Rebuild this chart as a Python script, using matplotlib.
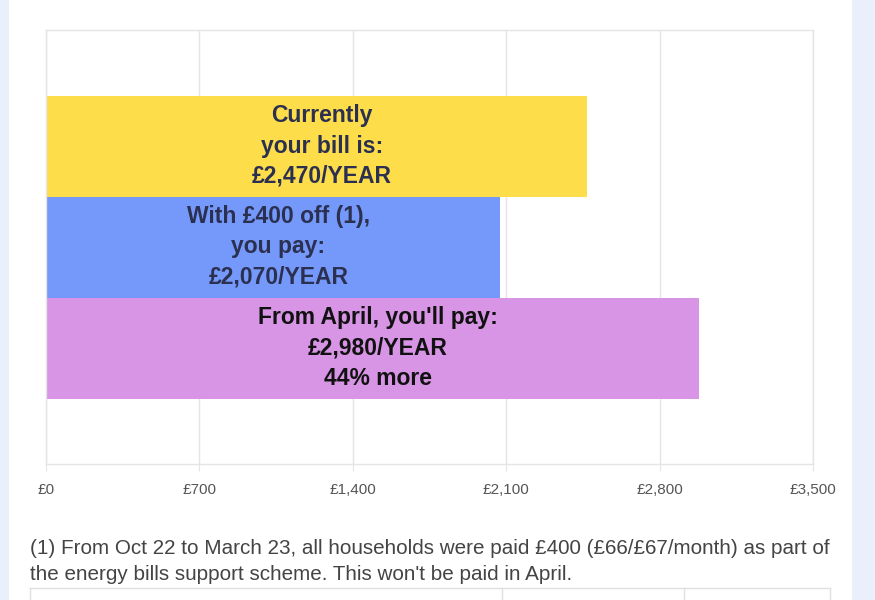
import matplotlib
matplotlib.use("Agg")
import matplotlib.pyplot as plt
from matplotlib.patches import Rectangle
from matplotlib.lines import Line2D

plt.rcParams['font.family'] = ['Liberation Sans', 'DejaVu Sans']

# Data
series_values = [2470, 2070, 2980]
series_labels = [
    "Currently\nyour bill is:\n£2,470/YEAR",
    "With £400 off (1),\nyou pay:\n£2,070/YEAR",
    "From April, you'll pay:\n£2,980/YEAR\n44% more",
]
series_colors = ["#fddd4a", "#7499fa", "#d894e5"]
text_colors = ["#2b3050", "#2b3050", "#111111"]
tick_values = [0, 700, 1400, 2100, 2800, 3500]
tick_labels = ["£0", "£700", "£1,400", "£2,100", "£2,800", "£3,500"]
footnote = ("(1) From Oct 22 to March 23, all households were paid £400 (£66/£67/month) as part of\n"
            "the energy bills support scheme. This won't be paid in April.")

W, H = 875, 600
fig = plt.figure(figsize=(W / 100, H / 100), dpi=100)
fig.patch.set_facecolor("white")

# side strips
fig.patches.append(Rectangle((0, 0), 9 / W, 1, transform=fig.transFigure,
                             facecolor="#eaf0fb", edgecolor="none", zorder=0))
fig.patches.append(Rectangle((852 / W, 0), (W - 852) / W, 1, transform=fig.transFigure,
                             facecolor="#eaf0fb", edgecolor="none", zorder=0))

ax = fig.add_axes([46 / W, (H - 464) / H, 767 / W, 434 / H])
ax.set_facecolor("none")

offsets = [1, 0, -1]
for v, lab, c, tc, off in zip(series_values, series_labels, series_colors, text_colors, offsets):
    ax.barh(off, v, height=1.0, color=c, edgecolor="none", zorder=2)
    ax.text(v / 2 + 25, off, lab, ha="center", va="center", fontsize=16.5,
            fontweight="bold", color=tc, linespacing=1.41, zorder=3)

half = 434 / 101 / 2
ax.set_ylim(-half, half)
ax.set_xlim(tick_values[0], tick_values[-1])
ax.set_xticks(tick_values)
ax.set_xticklabels(tick_labels, fontsize=11, color="#555555")
ax.set_yticks([])
ax.grid(axis="x", color="#e5e5e5", linewidth=1, zorder=1)
ax.set_axisbelow(True)
for side in ["top", "right", "left", "bottom"]:
    ax.spines[side].set_color("#e5e5e5")
    ax.spines[side].set_linewidth(1)
ax.tick_params(axis="x", length=5, color="#e5e5e5", pad=9)

fig.text(30 / W, 1 - 561.5 / H, footnote, ha="left", va="center", fontsize=14.9,
         color="#444444", linespacing=1.48)

# table outline at the bottom
lc = "#e0e0e0"
fig.lines.append(Line2D([30 / W, 830 / W], [1 - 588 / H, 1 - 588 / H],
                        transform=fig.transFigure, color=lc, linewidth=1))
for xv in [30, 502, 684, 830]:
    fig.lines.append(Line2D([xv / W, xv / W], [0, 1 - 588 / H],
                            transform=fig.transFigure, color=lc, linewidth=1))

fig.savefig("out.png", dpi=100)
